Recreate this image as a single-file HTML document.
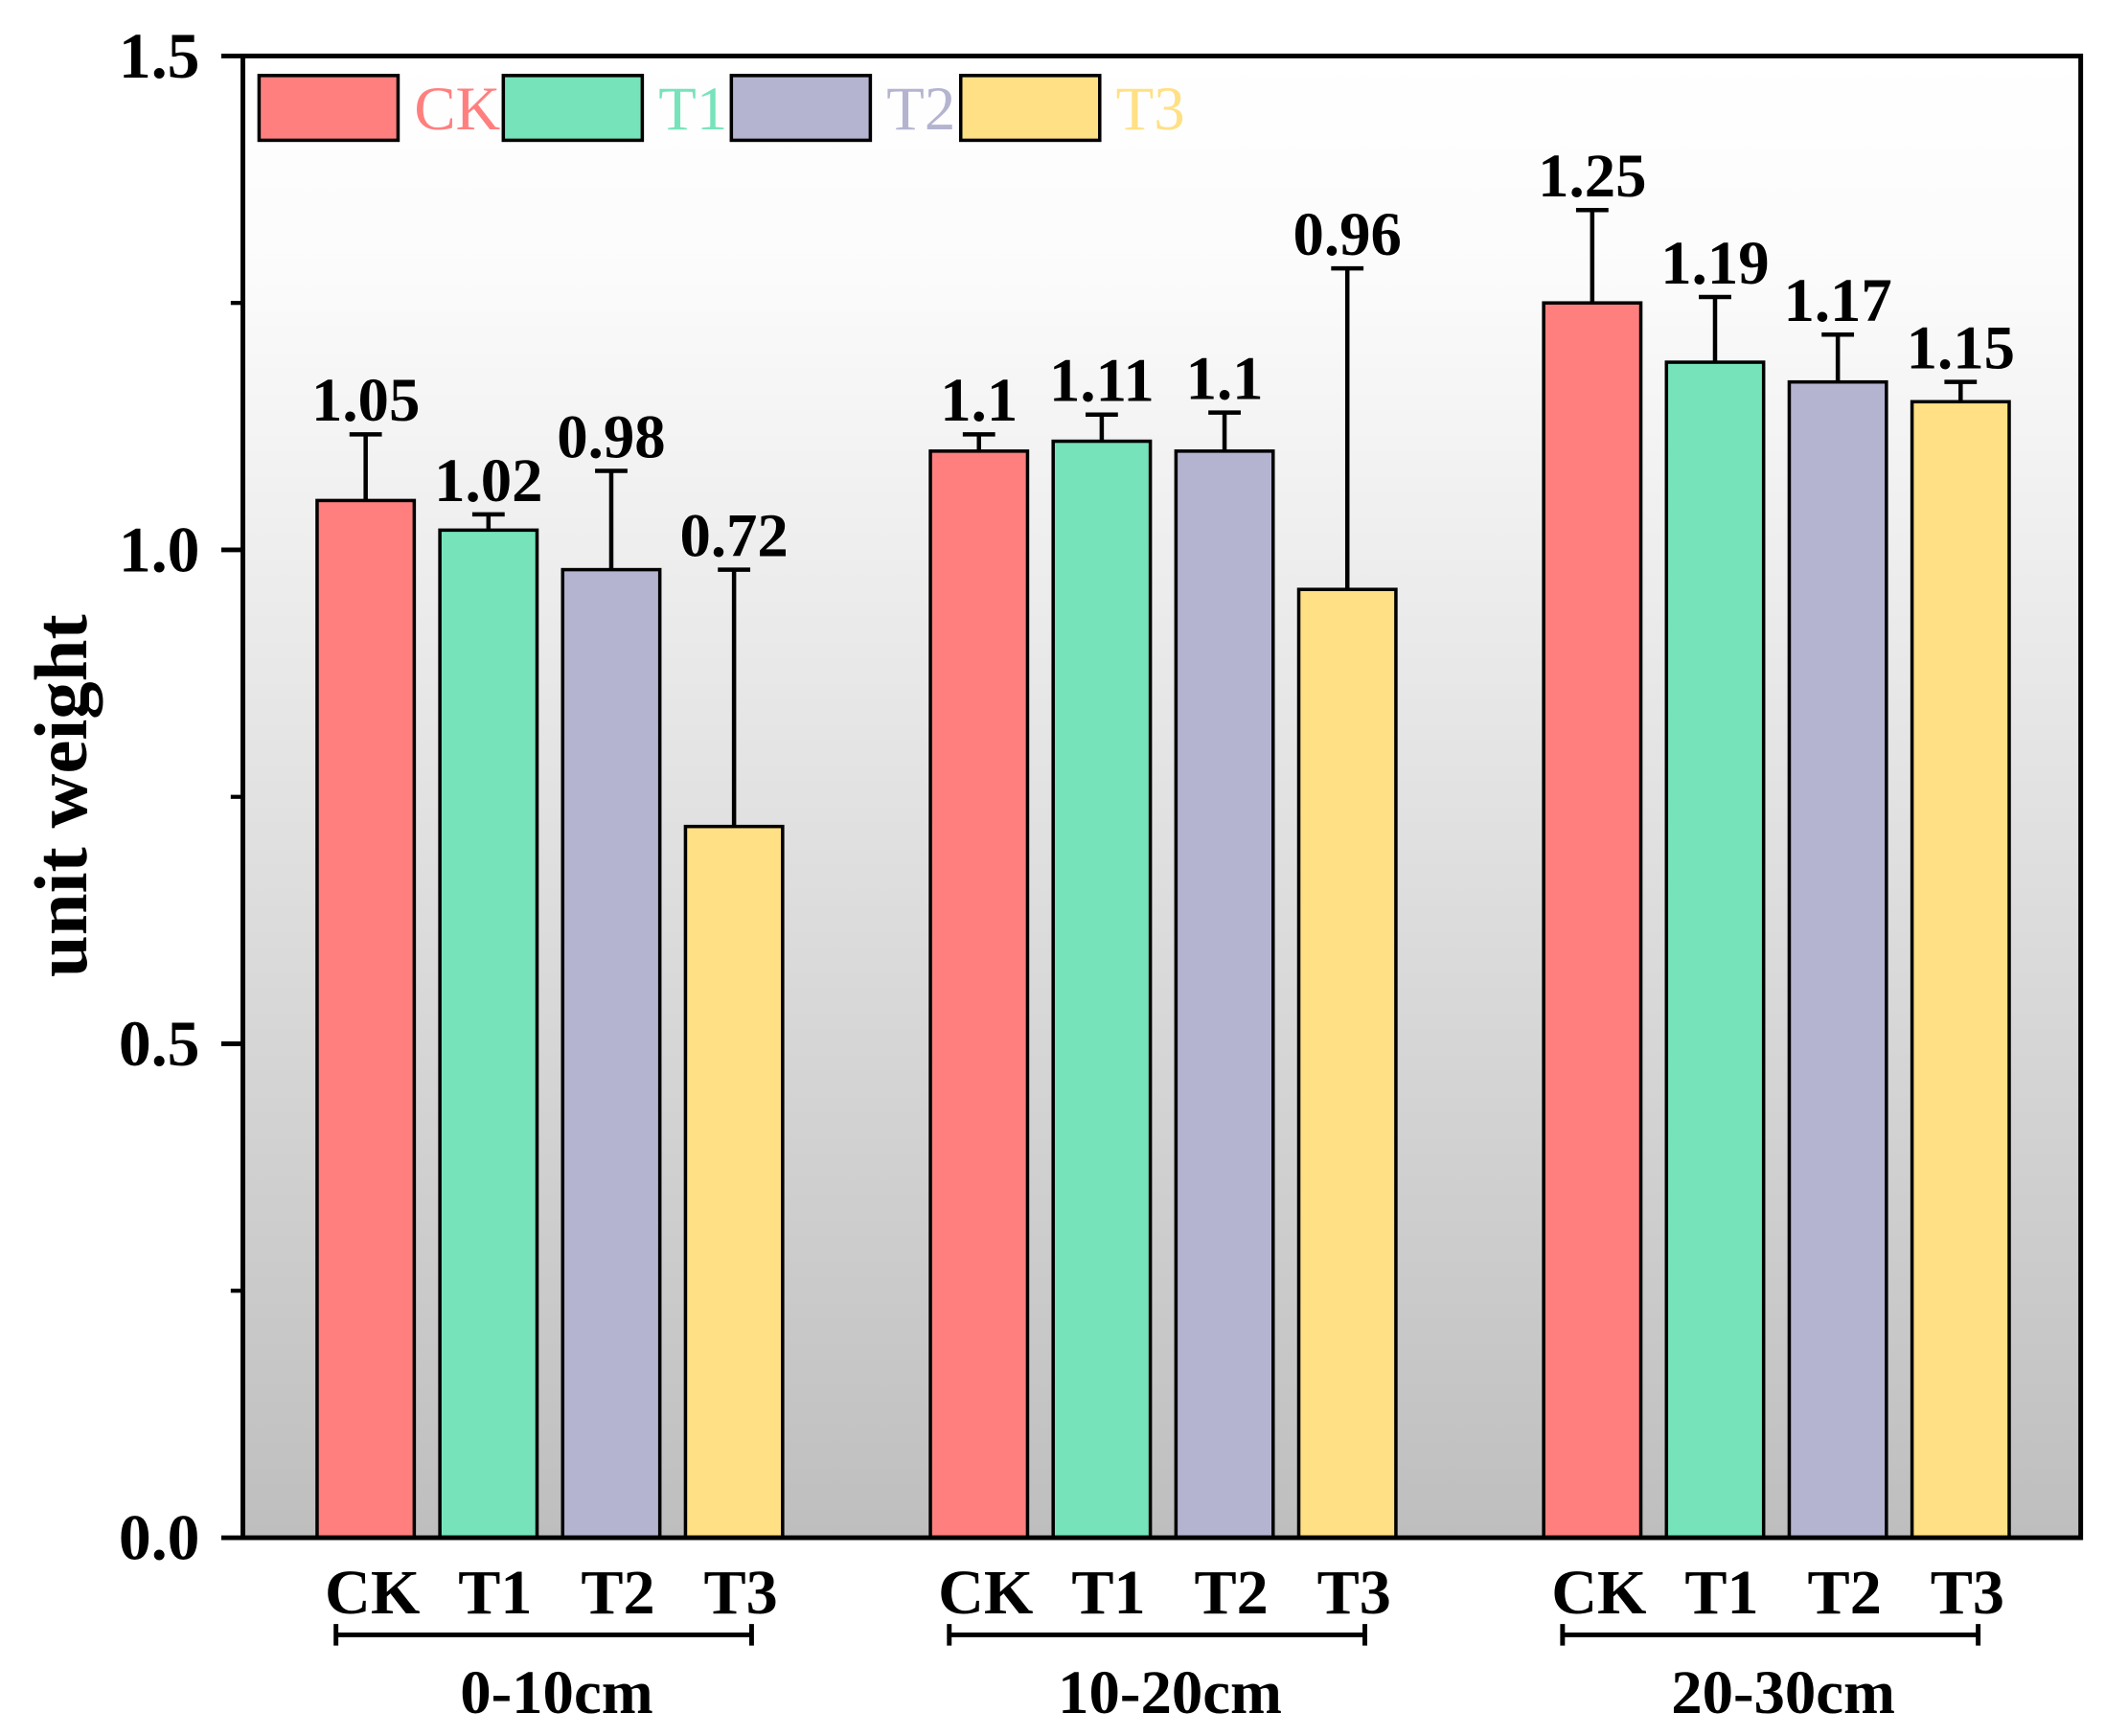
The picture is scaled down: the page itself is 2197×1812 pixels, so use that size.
<!DOCTYPE html>
<html><head><meta charset="utf-8"><style>
html,body{margin:0;padding:0;background:#fff;}
svg{display:block;}
text{font-family:"Liberation Serif",serif;}
</style></head><body>
<svg id="chart" xmlns="http://www.w3.org/2000/svg" width="2197" height="1812" viewBox="0 0 1560 1287" preserveAspectRatio="none">
<defs>
<linearGradient id="bg" x1="0" y1="0" x2="0" y2="1">
<stop offset="0" stop-color="#ffffff"/>
<stop offset="0.15" stop-color="#fbfbfb"/>
<stop offset="1" stop-color="#bebebe"/>
</linearGradient>
</defs>
<rect x="180" y="42" width="1362" height="1098" fill="url(#bg)"/>
<g id="bars"></g>
<g id="axes"></g>
<g id="legend"></g>
</svg>
<script>
const groups = ["0-10cm", "10-20cm", "20-30cm"];
const series = ["CK", "T1", "T2", "T3"];
const colors = ["#ff7f7f", "#77e3bb", "#b4b4d0", "#ffe084"];
const ckValues = [1.05, 1.10, 1.25];
const t1Values = [1.02, 1.11, 1.19];
const t2Values = [0.98, 1.10, 1.17];
const t3Values = [0.72, 0.96, 1.15];
const ckErrors = [0.067, 0.017, 0.094];
const t1Errors = [0.016, 0.027, 0.066];
const t2Errors = [0.10, 0.039, 0.048];
const t3Errors = [0.26, 0.325, 0.02];
const labels = [["1.05","1.1","1.25"],["1.02","1.11","1.19"],["0.98","1.1","1.17"],["0.72","0.96","1.15"]];
const yTicks = [0, 0.5, 1.0, 1.5];
const yTickLabels = ["0.0", "0.5", "1.0", "1.5"];
const yMinorTicks = [0.25, 0.75, 1.25];

const values = [ckValues, t1Values, t2Values, t3Values];
const errors = [ckErrors, t1Errors, t2Errors, t3Errors];
const NS = "http://www.w3.org/2000/svg";
const Y0 = 1140, Y1 = 41.5, YMAX = 1.5;
function y(v){ return Y0 - v/YMAX*(Y0-Y1); }
const groupStart = 271, groupStep = 454.5, barStep = 91, barW = 72;
function xc(g, s){ return groupStart + g*groupStep + s*barStep; }
function gc(g){ return xc(g,0) + 1.5*barStep; }
function mk(tag, attrs, parent){ const e=document.createElementNS(NS,tag); for(const k in attrs) e.setAttribute(k, attrs[k]); parent.appendChild(e); return e; }

const barsG = document.getElementById('bars');
for(let g=0; g<groups.length; g++){
  for(let s=0; s<series.length; s++){
    const v = values[s][g], e = errors[s][g], cx = xc(g,s);
    const r = mk('rect', {x: cx-barW/2, y: y(v), width: barW, height: y(0)-y(v), fill: colors[s], stroke: '#000', 'stroke-width': 2.5}, barsG);
    
    
    const top = y(v+e);
    const el = mk('path', {d: `M${cx},${y(v)}V${top}M${cx-12},${top}H${cx+12}`, stroke: '#000', 'stroke-width': 3.2, fill: 'none'}, barsG);
    
    
    const t = mk('text', {x: cx, y: top-10, 'text-anchor': 'middle', 'font-size': 46, 'font-weight': 'bold'}, barsG);
    t.textContent = labels[s][g];
    
    
  }
}

const axG = document.getElementById('axes');
const frame = mk('rect', {x: 180, y: Y1, width: 1362, height: Y0-Y1, fill: 'none', stroke: '#000', 'stroke-width': 3.5}, axG);


for(let i=0;i<yTicks.length;i++){
  const yy = y(yTicks[i]);
  const tk = mk('line', {x1: 164, x2: 180, y1: yy, y2: yy, stroke: '#000', 'stroke-width': 3.5}, axG);
  
  
  const tl = mk('text', {x: 148, y: yy+16, 'text-anchor': 'end', 'font-size': 48, 'font-weight': 'bold'}, axG);
  tl.textContent = yTickLabels[i];
  
  
}
for(const m of yMinorTicks){
  const yy = y(m);
  const tk = mk('line', {x1: 171, x2: 180, y1: yy, y2: yy, stroke: '#000', 'stroke-width': 3}, axG);
  
  
}
const yt = mk('text', {x: 0, y: 0, transform: 'translate(64,590) rotate(-90)', 'text-anchor': 'middle', 'font-size': 56, 'font-weight': 'bold'}, axG);
yt.textContent = 'unit weight';


for(let g=0; g<groups.length; g++){
  for(let s=0; s<series.length; s++){
    const cl = mk('text', {x: xc(g,s)+5, y: 1196, 'text-anchor': 'middle', 'font-size': 47, 'font-weight': 'bold'}, axG);
    cl.textContent = series[s];
    
    
  }
  const a = xc(g,0)-22, b = xc(g,3)+13;
  const br = mk('path', {d: `M${a},1212H${b}M${a},1204V1220M${b},1204V1220`, stroke: '#000', 'stroke-width': 3.5, fill: 'none'}, axG);
  
  
  const gl = mk('text', {x: gc(g)+5, y: 1270, 'text-anchor': 'middle', 'font-size': 46, 'font-weight': 'bold'}, axG);
  gl.textContent = groups[g];
  
  
}

const lg = document.getElementById('legend');
const legX = [192, 373, 542, 712];
for(let s=0;s<series.length;s++){
  const box = mk('rect', {x: legX[s], y: 56, width: 103, height: 48, fill: colors[s], stroke: '#000', 'stroke-width': 2.5}, lg);
  
  
  const lt = mk('text', {x: legX[s]+115, y: 96, 'font-size': 46, fill: colors[s]}, lg);
  lt.textContent = series[s];
  
  
}
</script>
</body></html>
